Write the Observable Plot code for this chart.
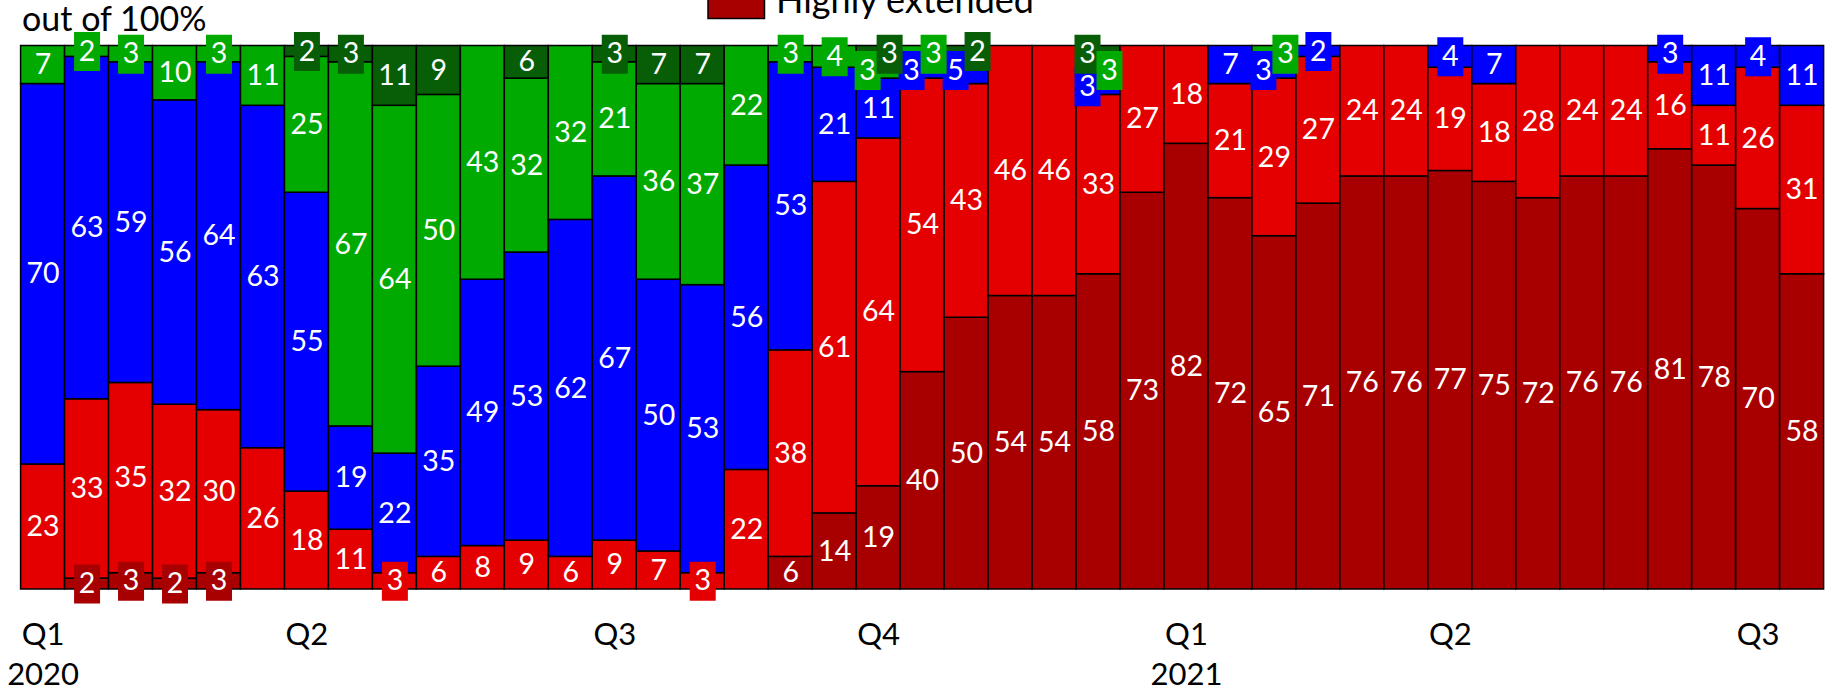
<!DOCTYPE html>
<html><head><meta charset="utf-8">
<script src="https://cdn.jsdelivr.net/npm/d3@7"></script>
<script src="https://cdn.jsdelivr.net/npm/@observablehq/plot@0.6"></script>
<style>
html,body{margin:0;padding:0;background:#fff;overflow:hidden}
#wrap{position:relative;width:1835px;height:692px;font-family:Lato,sans-serif}
#wrap svg{position:absolute;left:0;top:0}
</style></head><body><div id="wrap"></div>
<script>
// ---- data (bottom -> top) ----
const bars = ["b01","b02","b03","b04","b05","b06","b07","b08","b09","b10","b11","b12","b13","b14","b15","b16","b17","b18","b19","b20","b21","b22","b23","b24","b25","b26","b27","b28","b29","b30","b31","b32","b33","b34","b35","b36","b37","b38","b39","b40","b41"];
const quarterLabels = ["Q1","","","","","","Q2","","","","","","","Q3","","","","","","Q4","","","","","","","Q1","","","","","","Q2","","","","","","","Q3",""];
const yearLabels = ["2020","","","","","","","","","","","","","","","","","","","","","","","","","","2021","","","","","","","","","","","","","",""];
const seriesNames = ["Highly extended","Extended","Moderately extended","Slightly extended","Not extended"];
const seriesColors = ["#A80000","#E40000","#0000FF","#00AA00","#075E07"];
const highlyExtended = [0,2,3,2,3,0,0,0,0,0,0,0,0,0,0,0,0,6,14,19,40,50,54,54,58,73,82,72,65,71,76,76,77,75,72,76,76,81,78,70,58];
const extended       = [23,33,35,32,30,26,18,11,3,6,8,9,6,9,7,3,22,38,61,64,54,43,46,46,33,27,18,21,29,27,24,24,19,18,28,24,24,16,11,26,31];
const blueSeries     = [70,63,59,56,64,63,55,19,22,35,49,53,62,67,50,53,56,53,21,11,3,5,0,0,3,0,0,7,3,2,0,0,4,7,0,0,0,3,11,4,11];
const greenSeries    = [7,2,3,10,3,11,25,67,64,50,43,32,32,21,36,37,22,3,4,3,3,0,0,0,3,0,0,0,3,0,0,0,0,0,0,0,0,0,0,0,0];
const darkGreen      = [0,0,0,0,0,0,2,3,11,9,0,6,0,3,7,7,0,0,0,3,0,2,0,0,3,0,0,0,0,0,0,0,0,0,0,0,0,0,0,0,0];
const allSeries = [highlyExtended, extended, blueSeries, greenSeries, darkGreen];

// ---- long table with stack positions ----
const rows = [];
bars.forEach((b, i) => {
  let acc = 0, smallRun = 0;
  allSeries.forEach((vals, s) => {
    const v = vals[i];
    if (v <= 0) return;
    const small = v <= 5;
    let off = 0;
    if (small) {
      // consecutive small labels in one bar alternate left / right
      const prevSmall = rows.length && rows[rows.length-1].bar === b && rows[rows.length-1].small;
      smallRun = prevSmall ? smallRun + 1 : 0;
      const nextIdx = allSeries.slice(s+1).findIndex(a => a[i] > 0);
      const nextSmall = nextIdx >= 0 && allSeries[s+1+nextIdx][i] <= 5;
      if (prevSmall || nextSmall) off = smallRun % 2 === 0 ? -11 : 11;
    } else smallRun = 0;
    rows.push({bar: b, series: seriesNames[s], value: v, y1: acc, y2: acc + v, mid: acc + v/2, small, off});
    acc += v;
  });
});

const labelBox = {draw(ctx){ ctx.rect(-13, -19.5, 26, 39); }};
const offsets = [-11, 0, 11];

const marks = [
  Plot.barY(rows, {x: "bar", y1: "y1", y2: "y2", fill: "series", stroke: "black", strokeWidth: 1.5})
];
for (const o of offsets) {
  marks.push(Plot.dot(rows.filter(d => d.small && d.off === o), {x: "bar", y: "mid", fill: "series", symbol: labelBox, dx: o}));
}
for (const o of offsets) {
  marks.push(Plot.text(rows.filter(d => d.off === o), {x: "bar", y: "mid", text: "value", fill: "white", fontSize: 28.5, dx: o}));
}
const qIdx = d3.range(bars.length).filter(i => quarterLabels[i]);
const yIdx = d3.range(bars.length).filter(i => yearLabels[i]);
marks.push(Plot.text(qIdx, {x: i => bars[i], text: i => quarterLabels[i], frameAnchor: "bottom", dy: 55, fontSize: 31, fill: "black"}));
marks.push(Plot.text(yIdx, {x: i => bars[i], text: i => yearLabels[i], frameAnchor: "bottom", dy: 95, fontSize: 31, fill: "black"}));

const chart = Plot.plot({
  width: 1835, height: 692,
  marginLeft: 20.6, marginRight: 11.4, marginTop: 45.5, marginBottom: 103,
  x: {type: "band", domain: bars, padding: 0, axis: null},
  y: {domain: [0, 100], axis: null},
  color: {domain: seriesNames, range: seriesColors},
  style: {fontFamily: "Lato, sans-serif", background: "transparent", overflow: "visible"},
  marks
});
const wrap = document.getElementById("wrap");
wrap.appendChild(chart);

// ---- header texts: unit note and (cropped) legend row ----
const ov = d3.select(wrap).append("svg").attr("width", 1835).attr("height", 692)
  .style("pointer-events", "none").style("font-family", "Lato, sans-serif");
ov.append("text").attr("x", 22).attr("y", 31).attr("font-size", 34).attr("fill", "black").text("out of 100%");
ov.append("rect").attr("x", 708).attr("y", -12).attr("width", 56.5).attr("height", 30.5)
  .attr("fill", seriesColors[0]).attr("stroke", "black").attr("stroke-width", 1.5);
ov.append("text").attr("x", 776).attr("y", 13).attr("font-size", 36).attr("fill", "black").text(seriesNames[0]);
</script></body></html>
